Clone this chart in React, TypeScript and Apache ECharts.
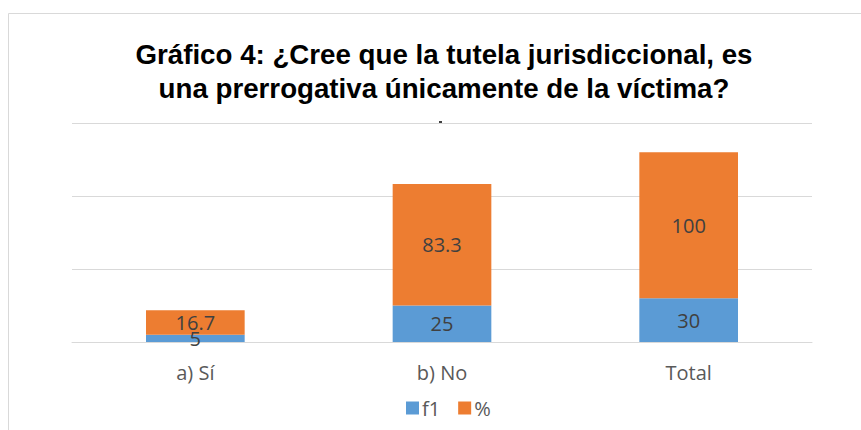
import React, { useEffect, useRef } from "react";
import * as echarts from "echarts";

const categories = ["a) Sí", "b) No", "Total"];
const f1Values = [5, 25, 30];
const pctValues = [16.7, 83.3, 100];
const seriesNames = ["f1", "%"];
const titleText = "Gráfico 4: ¿Cree que la tutela jurisdiccional, es\nuna prerrogativa únicamente de la víctima?";

export default function App() {
  const ref = useRef<HTMLDivElement>(null);
  useEffect(() => {
    if (!ref.current) return;
    const chart = echarts.init(ref.current, null, { renderer: "svg" });
    const labelStyle = {
      show: true,
      position: "inside",
      color: "#404040",
      fontSize: 20,
      fontFamily: "Open Sans",
    };
    chart.setOption({
      animation: false,
      backgroundColor: "#ffffff",
      graphic: [
        {
          type: "rect",
          shape: { x: 8.5, y: 13.5, width: 900, height: 500 },
          style: { fill: "none", stroke: "#d9d9d9", lineWidth: 1 },
          silent: true,
        },
        {
          type: "rect",
          shape: { x: 439, y: 121, width: 3, height: 3 },
          style: { fill: "#404040" },
          silent: true,
        },
      ],
      title: {
        text: titleText,
        left: 439,
        top: 32,
        textAlign: "center",
        textStyle: {
          fontFamily: "Liberation Sans",
          fontWeight: "bold",
          fontSize: 27.7,
          lineHeight: 34,
          color: "#000000",
        },
      },
      legend: {
        data: seriesNames,
        left: 401,
        top: 393,
        itemWidth: 13,
        itemHeight: 13,
        itemGap: 18,
        icon: "rect",
        textStyle: { color: "#595959", fontSize: 20, fontFamily: "Open Sans", padding: [0, 0, 0, -2] },
      },
      grid: { left: 72, right: 49, top: 123, bottom: 88 },
      xAxis: {
        type: "category",
        data: categories,
        axisLine: { lineStyle: { color: "#d9d9d9", width: 1 } },
        axisTick: { show: false },
        axisLabel: { color: "#595959", fontSize: 20, fontFamily: "Open Sans", margin: 20 },
      },
      yAxis: {
        type: "value",
        min: 0,
        max: 150,
        interval: 50,
        axisLabel: { show: false },
        axisLine: { show: false },
        axisTick: { show: false },
        splitLine: { lineStyle: { color: "#d9d9d9", width: 1 } },
      },
      series: [
        {
          name: seriesNames[0],
          type: "bar",
          stack: "total",
          data: f1Values,
          barWidth: "40%",
          itemStyle: { color: "#5b9bd5" },
          label: labelStyle,
        },
        {
          name: seriesNames[1],
          type: "bar",
          stack: "total",
          data: pctValues,
          barWidth: "40%",
          itemStyle: { color: "#ed7d31" },
          label: labelStyle,
        },
      ],
    });
    return () => chart.dispose();
  }, []);
  return (
    <div
      ref={ref}
      style={{ position: "absolute", left: 0, top: 0, width: 861, height: 430 }}
    />
  );
}
